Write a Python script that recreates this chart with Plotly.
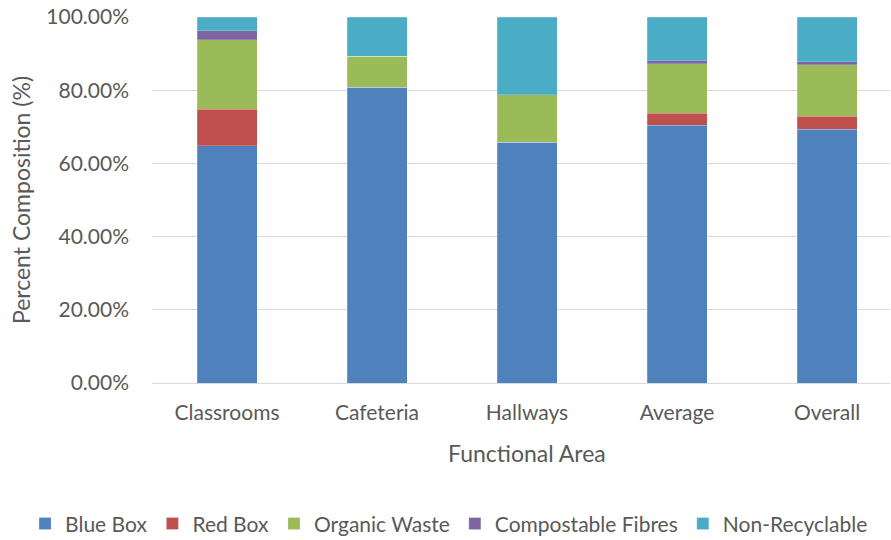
import plotly.graph_objects as go

categories = ["Classrooms", "Cafeteria", "Hallways", "Average", "Overall"]
blue_box = [64.8, 80.8, 65.8, 70.4, 69.3]
red_box = [10.0, 0.0, 0.0, 3.3, 3.6]
organic_waste = [19.0, 8.5, 12.9, 13.5, 14.1]
compostable_fibres = [2.5, 0.0, 0.0, 0.8, 0.8]
non_recyclable = [3.7, 10.7, 21.3, 12.0, 12.2]

series = [
    ("Blue Box", blue_box, "#4F81BD"),
    ("Red Box", red_box, "#C0504D"),
    ("Organic Waste", organic_waste, "#9BBB59"),
    ("Compostable Fibres", compostable_fibres, "#8064A2"),
    ("Non-Recyclable", non_recyclable, "#4BACC6"),
]

font_family = "Lato, Carlito, 'Open Sans', sans-serif"
grey = "#595959"

fig = go.Figure()
for name, vals, col in series:
    fig.add_trace(go.Bar(
        x=categories, y=[v / 100 for v in vals], name=name,
        marker=dict(color=col, line=dict(color="rgba(255,255,255,0.4)", width=0.5)),
        width=0.4,
    ))

fig.update_layout(
    barmode="stack",
    width=891, height=540,
    margin=dict(l=152, r=1, t=17, b=157, autoexpand=False),
    paper_bgcolor="white", plot_bgcolor="white",
    font=dict(family=font_family, size=21, color=grey),
    showlegend=True,
    legend=dict(orientation="h", xref="paper", yref="paper",
                x=-0.172, xanchor="left", y=-0.385, yanchor="middle",
                font=dict(size=21, color=grey), traceorder="normal",
                itemwidth=30, tracegroupgap=0),
    xaxis=dict(range=[-0.5, 4.42], showgrid=False, showline=False, ticks="",
               tickfont=dict(size=21, color=grey), ticklabelstandoff=15),
    yaxis=dict(range=[0, 1], tickformat=".2%", dtick=0.2, showgrid=True,
               gridcolor="#D9D9D9", gridwidth=1.3, zeroline=True, zerolinecolor="#D9D9D9",
               zerolinewidth=1.3, ticks="", ticklabelstandoff=22,
               tickfont=dict(size=21, color=grey),
               title=dict(text="Percent Composition (%)", font=dict(size=23, color=grey), standoff=9)),
    annotations=[dict(text="Functional Area", xref="x", yref="paper", x=2.0, y=-0.19,
                      xanchor="center", yanchor="middle", showarrow=False,
                      font=dict(size=23, color=grey))],
)

fig.write_html("out.html")
